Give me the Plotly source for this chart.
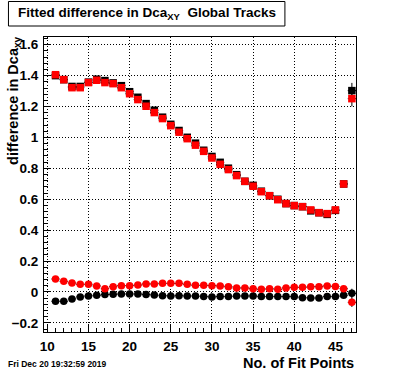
import plotly.graph_objects as go

# ---- data ----
fit_points = [11, 12, 13, 14, 15, 16, 17, 18, 19, 20,
              21, 22, 23, 24, 25, 26, 27, 28, 29, 30,
              31, 32, 33, 34, 35, 36, 37, 38, 39, 40,
              41, 42, 43, 44, 45, 46, 47]

sigma_black = [1.400, 1.374, 1.330, 1.330, 1.358, 1.377, 1.368, 1.353, 1.335, 1.296,
               1.260, 1.219, 1.176, 1.131, 1.085, 1.045, 1.001, 0.963, 0.917, 0.877,
               0.839, 0.801, 0.759, 0.716, 0.690, 0.652, 0.623, 0.600, 0.572, 0.559,
               0.552, 0.525, 0.513, 0.502, 0.528, 0.699, 1.303]

sigma_red = [1.406, 1.374, 1.322, 1.322, 1.355, 1.370, 1.355, 1.348, 1.322, 1.283,
             1.245, 1.202, 1.161, 1.122, 1.076, 1.034, 0.992, 0.950, 0.910, 0.867,
             0.826, 0.792, 0.753, 0.716, 0.684, 0.649, 0.623, 0.597, 0.572, 0.559,
             0.552, 0.531, 0.513, 0.507, 0.531, 0.699, 1.251]

mean_black = [-0.060, -0.060, -0.045, -0.032, -0.026, -0.021, -0.017, -0.015, -0.013, -0.013,
              -0.013, -0.017, -0.019, -0.024, -0.026, -0.024, -0.026, -0.026, -0.030, -0.032,
              -0.030, -0.030, -0.026, -0.026, -0.026, -0.030, -0.030, -0.030, -0.030, -0.030,
              -0.037, -0.039, -0.039, -0.030, -0.030, -0.021, -0.009]

mean_red = [0.084, 0.069, 0.058, 0.050, 0.050, 0.039, 0.021, 0.034, 0.041, 0.041,
            0.045, 0.052, 0.052, 0.056, 0.056, 0.056, 0.050, 0.043, 0.043, 0.041,
            0.039, 0.034, 0.026, 0.026, 0.021, 0.017, 0.021, 0.017, 0.026, 0.030,
            0.030, 0.034, 0.034, 0.039, 0.036, 0.021, -0.067]

sigma_err = [0.005, 0.005, 0.005, 0.005, 0.005, 0.005, 0.005, 0.005, 0.005, 0.005,
             0.005, 0.005, 0.005, 0.005, 0.005, 0.005, 0.005, 0.005, 0.005, 0.005,
             0.005, 0.005, 0.005, 0.005, 0.005, 0.005, 0.005, 0.005, 0.005, 0.005,
             0.005, 0.005, 0.005, 0.005, 0.006, 0.010, 0.050]

mean_err = [0.004, 0.004, 0.004, 0.004, 0.004, 0.004, 0.004, 0.004, 0.004, 0.004,
            0.004, 0.004, 0.004, 0.004, 0.004, 0.004, 0.004, 0.004, 0.004, 0.004,
            0.004, 0.004, 0.004, 0.004, 0.004, 0.004, 0.004, 0.004, 0.004, 0.004,
            0.004, 0.004, 0.004, 0.004, 0.005, 0.008, 0.030]

bin_half_width = [0.5] * len(fit_points)

title_text = "Fitted difference in Dca<sub>XY</sub> \u00a0Global Tracks"
ytitle_text = "difference in Dca<sub>xy</sub>"
xtitle_text = "No. of Fit Points"
date_text = "Fri Dec 20 19:32:59 2019"

# ---- layout geometry ----
W, H = 396, 372
L, R, T, B = 40, 40, 37, 40
PW, PH = W - L - R, H - T - B


def px(x):
    return (x - L) / PW


def py(y):
    return (H - B - y) / PH


FONT = "Liberation Sans, Arial, Helvetica, sans-serif"

fig = go.Figure()


def add_series(yvals, yerr, color, symbol):
    fig.add_trace(go.Scatter(
        x=fit_points, y=yvals, mode="markers",
        marker=dict(symbol=symbol, size=7.5, color=color, line=dict(width=0)),
        error_x=dict(type="data", array=bin_half_width, color="black", thickness=1, width=0),
        error_y=dict(type="data", array=yerr, color="black", thickness=1, width=0),
        showlegend=False, hoverinfo="x+y",
    ))


add_series(sigma_black, sigma_err, "black", "square")
add_series(sigma_red, sigma_err, "red", "square")
add_series(mean_black, mean_err, "black", "circle")
add_series(mean_red, mean_err, "red", "circle")

tickfont = dict(family=FONT, size=13.5, color="black", weight="bold")

fig.update_xaxes(
    range=[9.6, 47.5], tick0=10, dtick=5, ticks="inside", ticklen=8, tickwidth=1,
    tickcolor="black", showline=True, linecolor="black", linewidth=1, mirror=True,
    showgrid=True, gridcolor="black", gridwidth=1, griddash="1px,2px", zeroline=False,
    tickfont=tickfont, ticklabelstandoff=2,
    minor=dict(dtick=1, ticks="inside", ticklen=4, tickcolor="black", showgrid=False),
)
fig.update_yaxes(
    range=[-0.259, 1.650], tick0=0, dtick=0.2, ticks="inside", ticklen=7, tickwidth=1,
    tickcolor="black", showline=True, linecolor="black", linewidth=1, mirror=True,
    showgrid=True, gridcolor="black", gridwidth=1, griddash="1px,2px", zeroline=False,
    tickfont=tickfont, ticklabelstandoff=2,
    minor=dict(dtick=0.04, ticks="inside", ticklen=4, tickcolor="black", showgrid=False),
)

# title box
fig.add_shape(type="rect", xref="paper", yref="paper",
              x0=px(4), x1=px(284), y0=py(26), y1=py(1.5),
              line=dict(color="black", width=1), fillcolor="white", layer="above")
fig.add_annotation(text=title_text, xref="paper", yref="paper",
                   x=px(12), y=py(14), xanchor="left", yanchor="middle",
                   showarrow=False,
                   font=dict(family=FONT, size=13.5, color="black", weight="bold"))

# y-axis title (top aligned)
fig.add_annotation(text=ytitle_text, xref="paper", yref="paper",
                   x=px(9.5), y=py(35), xanchor="center", yanchor="top",
                   textangle=-90, showarrow=False,
                   font=dict(family=FONT, size=14.5, color="black", weight="bold"))

# x-axis title (right aligned)
fig.add_annotation(text=xtitle_text, xref="paper", yref="paper",
                   x=px(356), y=py(363), xanchor="right", yanchor="middle",
                   showarrow=False,
                   font=dict(family=FONT, size=14.5, color="black", weight="bold"))

# date stamp
fig.add_annotation(text=date_text, xref="paper", yref="paper",
                   x=px(2), y=py(364), xanchor="left", yanchor="middle",
                   showarrow=False,
                   font=dict(family=FONT, size=8.5, color="black", weight="bold"))

fig.update_layout(
    width=W, height=H,
    margin=dict(l=L, r=R, t=T, b=B, pad=0),
    paper_bgcolor="white", plot_bgcolor="white",
    showlegend=False,
)

fig.write_html("out.html", config={"displayModeBar": False})

# remove the default page margin so the figure sits at the window's top-left corner
with open("out.html", "r", encoding="utf-8") as f:
    html = f.read()
html = html.replace("<head>", "<head><style>html,body{margin:0;padding:0;overflow:hidden;}</style>", 1)
with open("out.html", "w", encoding="utf-8") as f:
    f.write(html)
